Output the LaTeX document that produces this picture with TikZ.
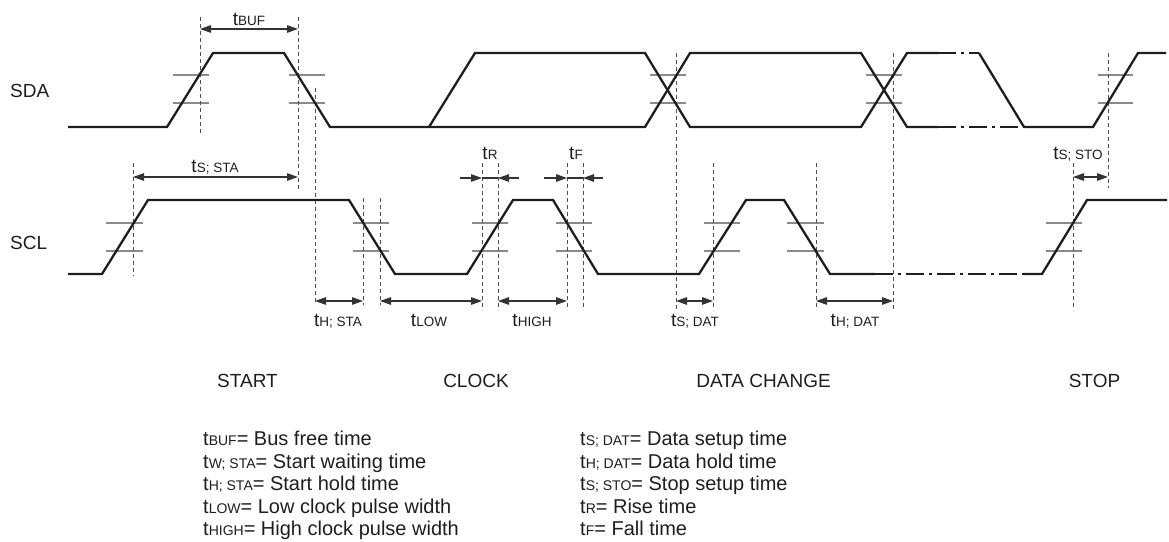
\documentclass[tikz,border=0pt]{standalone}
\usepackage{fontspec}
\setmainfont{Liberation Sans}
\usetikzlibrary{arrows.meta}
\definecolor{ink}{HTML}{1E1E1E}
\definecolor{tick}{HTML}{8A8A8A}
\definecolor{guide}{HTML}{505050}
\definecolor{dim}{HTML}{333333}
\newcommand\tsub[1]{t{\fontsize{13.5}{14}\selectfont #1}}
\newcommand\lsub[1]{t{\fontsize{14}{15}\selectfont #1}}
\begin{document}
\begin{tikzpicture}[x=1pt,y=-1pt,
  wave/.style={ink,line width=2.3pt,line join=miter},
  wavedd/.style={ink,line width=2.3pt,dash pattern=on 18pt off 5pt on 3pt off 5pt},
  thr/.style={tick,line width=1.3pt},
  guideline/.style={guide,line width=0.9pt,dash pattern=on 4pt off 3pt},
  dimline/.style={dim,line width=1.2pt},
  dimarrow/.style={dimline,{Triangle[length=11pt,width=7.5pt]}-{Triangle[length=11pt,width=7.5pt]}},
  inarrow/.style={dimline,-{Triangle[length=11pt,width=7.5pt]}},
  lbl/.style={inner sep=0pt,anchor=base,text=ink,font=\fontsize{19}{21}\selectfont},
  leg/.style={inner sep=0pt,anchor=base west,text=ink,font=\fontsize{20}{22}\selectfont}]
\useasboundingbox (0,0) rectangle (1169,541);

% threshold ticks
\foreach \a/\b in {173/209,289/325,650/686,866/902,1098/1133}{
  \draw[thr] (\a,75) -- (\b,75);
  \draw[thr] (\a,103) -- (\b,103);}
\foreach \a/\b in {106/143,353/389,472/508,556/592,704/740,787/824,1046/1082}{
  \draw[thr] (\a,223) -- (\b,223);
  \draw[thr] (\a,251) -- (\b,251);}

% dashed guide lines
\foreach \x/\ya/\yb in {200/17/133,298/17/190,315/88/305,133/163/276,363/198/305,380/198/305,
  482/163/310,498/163/310,567/163/310,583/163/310,676/53/310,713/163/310,816/163/310,
  893/53/310,1073/163/310,1108/53/188}{
  \draw[guideline] (\x,\ya) -- (\x,\yb);}

% SDA
\draw[wave] (68,127) -- (167,127) -- (213,53) -- (284,53) -- (330,127) -- (645,127)
  -- (690,53) -- (861,53) -- (907,127) -- (938,127);
\draw[wave] (429,127) -- (475,53) -- (645,53) -- (690,127) -- (861,127) -- (907,53) -- (938,53);
\draw[wavedd] (938,53) -- (979,53);
\draw[wave] (979,53) -- (1024,127);
\draw[wavedd] (938,127) -- (1024,127);
\draw[wave] (1024,127) -- (1093,127) -- (1138,53) -- (1166,53);

% SCL
\draw[wave] (68,274) -- (102,274) -- (148,200) -- (349,200) -- (395,274) -- (467,274)
  -- (513,200) -- (553,200) -- (598,274) -- (699,274) -- (746,200) -- (784,200)
  -- (830,274) -- (875,274);
\draw[wavedd] (875,274) -- (1023,274);
\draw[wave] (1023,274) -- (1042,274) -- (1087,200) -- (1167,200);

% dimension arrows
\coordinate (bufA) at (200,29); \coordinate (bufB) at (298,29);
\draw[dimarrow] (bufA) -- (bufB);
\coordinate (staA) at (133,177); \coordinate (staB) at (298,177);
\draw[dimarrow] (staA) -- (staB);
\coordinate (stoA) at (1073,177); \coordinate (stoB) at (1108,177);
\draw[dimarrow] (stoA) -- (stoB);
\coordinate (hstaA) at (315,301); \coordinate (hstaB) at (363,301);
\draw[dimarrow] (hstaA) -- (hstaB);
\coordinate (lowA) at (380,301); \coordinate (lowB) at (482,301);
\draw[dimarrow] (lowA) -- (lowB);
\coordinate (highA) at (498,301); \coordinate (highB) at (567,301);
\draw[dimarrow] (highA) -- (highB);
\coordinate (sdatA) at (676,301); \coordinate (sdatB) at (713,301);
\draw[dimarrow] (sdatA) -- (sdatB);
\coordinate (hdatA) at (816,301); \coordinate (hdatB) at (893,301);
\draw[dimarrow] (hdatA) -- (hdatB);
% tR, tF
\coordinate (rL) at (460,178); \coordinate (rA) at (482,178);
\coordinate (rB) at (498,178); \coordinate (rR) at (519,178);
\draw[dimline] (rA) -- (rB);
\draw[inarrow] (rL) -- (rA);
\draw[inarrow] (rR) -- (rB);
\coordinate (fL) at (544,178); \coordinate (fA) at (567,178);
\coordinate (fB) at (583,178); \coordinate (fR) at (603,178);
\draw[dimline] (fA) -- (fB);
\draw[inarrow] (fL) -- (fA);
\draw[inarrow] (fR) -- (fB);

% labels
\node[lbl,anchor=base west] (sda) at (10,97) {SDA};
\node[lbl,anchor=base west] (scl) at (10,249) {SCL};
\node[lbl] (lbuf) at (249,25) {\tsub{BUF}};
\node[lbl] (lssta) at (215,172) {\tsub{S; STA}};
\node[lbl] (ltr) at (490,159) {\tsub{R}};
\node[lbl] (ltf) at (576,159) {\tsub{F}};
\node[lbl] (lssto) at (1078,159) {\tsub{S; STO}};
\node[lbl] (lhsta) at (338,326) {\tsub{H; STA}};
\node[lbl] (llow) at (429,326) {\tsub{LOW}};
\node[lbl] (lhigh) at (532,326) {\tsub{HIGH}};
\node[lbl] (lsdat) at (695,326) {\tsub{S; DAT}};
\node[lbl] (lhdat) at (855,326) {\tsub{H; DAT}};

\node[lbl] (start) at (247.5,387) {START};
\node[lbl] (clock) at (476,387) {CLOCK};
\node[lbl] (datach) at (763.5,387) {DATA CHANGE};
\node[lbl] (stop) at (1094.5,387) {STOP};

% legend
\node[leg] (g1) at (203,445.5) {\lsub{BUF}= Bus free time};
\node[leg] (g2) at (203,468) {\lsub{W; STA}= Start waiting time};
\node[leg] (g3) at (203,490.5) {\lsub{H; STA}= Start hold time};
\node[leg] (g4) at (203,513) {\lsub{LOW}= Low clock pulse width};
\node[leg] (g5) at (203,535.5) {\lsub{HIGH}= High clock pulse width};
\node[leg] (h1) at (580,445.5) {\lsub{S; DAT}= Data setup time};
\node[leg] (h2) at (580,468) {\lsub{H; DAT}= Data hold time};
\node[leg] (h3) at (580,490.5) {\lsub{S; STO}= Stop setup time};
\node[leg] (h4) at (580,513) {\lsub{R}= Rise time};
\node[leg] (h5) at (580,535.5) {\lsub{F}= Fall time};
\end{tikzpicture}
\end{document}
